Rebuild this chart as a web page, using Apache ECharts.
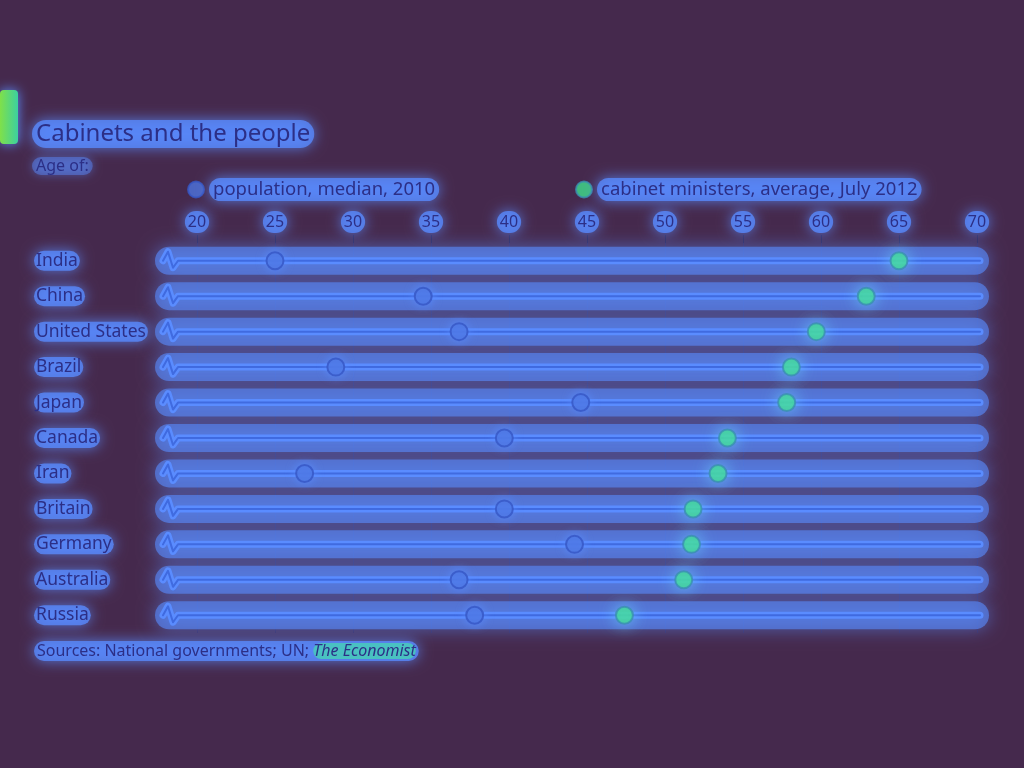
<!DOCTYPE html>
<html>
<head>
<meta charset="utf-8">
<script src="https://cdn.jsdelivr.net/npm/echarts@6/dist/echarts.min.js"></script>
<style>html,body{margin:0;padding:0;background:#45294d;}#c{width:1024px;height:768px;}</style>
</head>
<body>
<div id="c"></div>
<script>
const countries = ['India','China','United States','Brazil','Japan','Canada','Iran','Britain','Germany','Australia','Russia'];
const populationMedian2010 = [25.0, 34.5, 36.8, 28.9, 44.6, 39.7, 26.9, 39.7, 44.2, 36.8, 37.8];
const cabinetAverage2012 = [65.0, 62.9, 59.7, 58.1, 57.8, 54.0, 53.4, 51.8, 51.7, 51.2, 47.4];
const xTicks = [20, 25, 30, 35, 40, 45, 50, 55, 60, 65, 70];

const FONT = 'Noto Sans';
const TXT = '#2c2f86';
const GLOW = '#5a8cff';
const PILL = 'rgba(88,138,255,0.78)';

const chart = echarts.init(document.getElementById('c'), null, {renderer: 'canvas'});

const pill = {color: TXT, fontFamily: FONT, backgroundColor: PILL, borderRadius: 12,
  padding: [2, 4], shadowBlur: 14, shadowColor: GLOW};

chart.setOption({
  backgroundColor: '#45294d',
  animation: false,
  title: [
    {text: 'Cabinets and the people', left: 32, top: 120, padding: [2, 4],
     backgroundColor: PILL, borderRadius: 16, shadowBlur: 14, shadowColor: GLOW,
     textStyle: {color: TXT, fontFamily: FONT, fontSize: 24, fontWeight: 'normal'}},
    {text: 'Age of:', left: 32, top: 157, padding: [1, 4],
     backgroundColor: 'rgba(88,138,255,0.45)', borderRadius: 12, shadowBlur: 10, shadowColor: GLOW,
     textStyle: {color: TXT, fontFamily: FONT, fontSize: 16, fontWeight: 'normal'}}
  ],
  legend: [
    {data: ['population, median, 2010'], left: 182, top: 173, itemWidth: 16, itemHeight: 16, itemGap: 4,
     textStyle: Object.assign({}, pill, {fontSize: 18.5})},
    {data: ['cabinet ministers, average, July 2012'], left: 570, top: 173, itemWidth: 16, itemHeight: 16,
     textStyle: Object.assign({}, pill, {fontSize: 18.5})}
  ],
  grid: {left: 197, right: 47, top: 243, bottom: 135, containLabel: false},
  xAxis: {
    type: 'value', position: 'top', min: 20, max: 70, interval: 5,
    axisLine: {show: false},
    axisTick: {show: true, length: 8, lineStyle: {color: '#2e2350', width: 1}},
    splitLine: {show: true, lineStyle: {color: '#3a2a5c', width: 1}},
    axisLabel: Object.assign({}, pill, {fontSize: 16, margin: 10, padding: [3, 3], formatter: v => xTicks.includes(v) ? String(v) : ''})
  },
  yAxis: {
    type: 'category', data: countries, inverse: true,
    axisLine: {show: false}, axisTick: {show: false}, splitLine: {show: false},
    axisLabel: Object.assign({}, pill, {fontSize: 17.5, align: 'left', margin: 163, padding: [1, 2]})
  },
  series: [
    {
      type: 'custom', name: 'rows', silent: true, z: 1,
      data: countries.map(c => [20, c, 70]),
      encode: {x: [0, 2], y: 1},
      renderItem: function (params, api) {
        const a = api.coord([api.value(0), api.value(1)]);
        const b = api.coord([api.value(2), api.value(1)]);
        const y = a[1];
        const x0 = a[0] - 34;
        const pts = [[x0, y], [x0 + 5, y - 9], [x0 + 10, y + 7], [x0 + 15, y], [b[0] + 3, y]];
        return {
          type: 'group',
          children: [
            {type: 'rect', shape: {x: x0 - 8, y: y - 14, width: b[0] - x0 + 20, height: 28, r: 14},
             style: {fill: 'rgba(88,140,255,0.6)', shadowBlur: 18, shadowColor: 'rgba(90,140,255,0.9)'}},
            {type: 'polyline', shape: {points: pts},
             style: {stroke: '#5a8cff', lineWidth: 7, fill: null, lineCap: 'round', lineJoin: 'round'}},
            {type: 'polyline', shape: {points: pts},
             style: {stroke: '#3f6ae0', lineWidth: 2, fill: null, lineCap: 'round', lineJoin: 'round'}}
          ]
        };
      }
    },
    {
      type: 'scatter', name: 'population, median, 2010', z: 3,
      symbol: 'circle', symbolSize: 17,
      itemStyle: {color: '#4c74e0', borderColor: '#3656c4', borderWidth: 2, shadowBlur: 10, shadowColor: '#5a8cff'},
      data: populationMedian2010.map((v, i) => [v, countries[i]])
    },
    {
      type: 'scatter', name: 'cabinet ministers, average, July 2012', z: 4,
      symbol: 'circle', symbolSize: 17,
      itemStyle: {color: '#3fe08c', borderColor: '#3a8fb0', borderWidth: 2, shadowBlur: 16, shadowColor: '#6ac8ff'},
      data: cabinetAverage2012.map((v, i) => [v, countries[i]])
    }
  ],
  graphic: [
    {type: 'rect', left: 0, top: 90, shape: {width: 18, height: 54, r: 4},
     style: {fill: new echarts.graphic.LinearGradient(0, 0, 1, 0, [{offset: 0, color: '#7fe04a'}, {offset: 1, color: '#3cd0a0'}]),
             shadowBlur: 12, shadowColor: '#5a8cff'}},
    {type: 'text', left: 34, top: 641,
     style: {
       text: '{n|Sources: National governments; UN; }{i|The Economist}',
       backgroundColor: PILL, borderRadius: 12, padding: [2, 3], shadowBlur: 14, shadowColor: GLOW,
       rich: {
         n: {fontSize: 16, fontFamily: FONT, fill: TXT},
         i: {fontSize: 16, fontFamily: FONT, fontStyle: 'italic', fill: TXT,
             backgroundColor: 'rgba(70,205,185,0.85)', borderRadius: 8}
       }
     }}
  ]
});
</script>
</body>
</html>
